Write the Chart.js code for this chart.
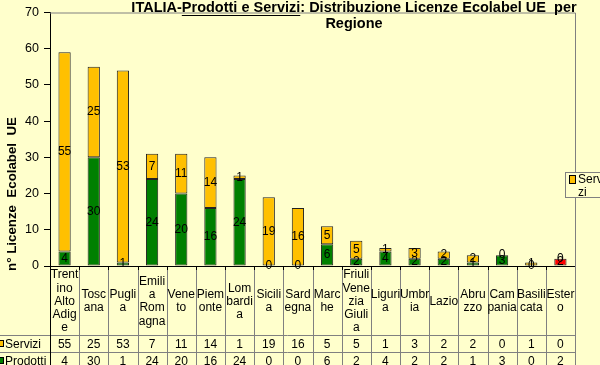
<!DOCTYPE html>
<html>
<head>
<meta charset="utf-8">
<script src="https://cdn.jsdelivr.net/npm/chart.js@4.4.1/dist/chart.umd.min.js"></script>
<style>
  html, body { margin: 0; padding: 0; background: #FFFFCC; }
  #wrap { width: 600px; height: 365px; position: relative; }
</style>
</head>
<body>
<div id="wrap"><canvas id="chart" width="600" height="365"></canvas></div>
<script>
// categorie (come vanno a capo nella tabella dati)
const regioni = [
  ["Trent", "ino", "Alto", "Adig", "e"],
  ["Tosc", "ana"],
  ["Pugli", "a"],
  ["Emili", "a", "Rom", "agna"],
  ["Vene", "to"],
  ["Piem", "onte"],
  ["Lom", "bardi", "a"],
  ["Sicili", "a"],
  ["Sard", "egna"],
  ["Marc", "he"],
  ["Friuli", "Vene", "zia", "Giuli", "a"],
  ["Liguri", "a"],
  ["Umbr", "ia"],
  ["Lazio"],
  ["Abru", "zzo"],
  ["Cam", "pania"],
  ["Basili", "cata"],
  ["Ester", "o"]
];

const servizi  = [55, 25, 53, 7, 11, 14, 1, 19, 16, 5, 5, 1, 3, 2, 2, 0, 1, 0];
const prodotti = [4, 30, 1, 24, 20, 16, 24, 0, 0, 6, 2, 4, 2, 2, 1, 3, 0, 2];

const yTicks = [0, 10, 20, 30, 40, 50, 60, 70];

const GIALLO = "#FFC000";
const VERDE = "#008000";
const ROSSO = "#FF0000";
const FONT = "Arial, 'Liberation Sans', sans-serif";

// colori barre prodotti: Estero in rosso
const coloriProdotti = regioni.map((r, i) => i === regioni.length - 1 ? ROSSO : VERDE);

// etichette valori dentro le barre
const etichettePlugin = {
  id: "etichette",
  afterDatasetsDraw(chart) {
    const ctx = chart.ctx;
    ctx.save();
    ctx.font = "12px " + FONT;
    ctx.fillStyle = "#000";
    ctx.textAlign = "center";
    ctx.textBaseline = "middle";
    chart.data.datasets.forEach((ds, di) => {
      const meta = chart.getDatasetMeta(di);
      meta.data.forEach((el, i) => {
        const y = (el.y + el.base) / 2;
        ctx.fillText(String(ds.data[i]), el.x, y);
      });
    });
    ctx.restore();
  }
};

// bordo area, titolo, tabella dati, legenda
const decoriPlugin = {
  id: "decori",
  afterDraw(chart) {
    const ctx = chart.ctx;
    const area = chart.chartArea;
    const n = regioni.length;
    const w = (area.right - area.left) / n;
    const fondo = 365;
    const riga1 = 335;
    const riga2 = 352;

    ctx.save();

    // bordo grigio sopra e a destra
    ctx.strokeStyle = "#808080";
    ctx.lineWidth = 1;
    ctx.beginPath();
    ctx.moveTo(area.left, area.top + 0.5);
    ctx.lineTo(area.right + 0.5, area.top + 0.5);
    ctx.lineTo(area.right + 0.5, area.bottom);
    ctx.stroke();

    // griglia tabella
    ctx.beginPath();
    for (let k = 1; k <= n; k++) {
      const x = Math.round(area.left + k * w) + 0.5;
      ctx.moveTo(x, area.bottom);
      ctx.lineTo(x, fondo);
    }
    ctx.moveTo(0, riga1 + 0.5);
    ctx.lineTo(area.right, riga1 + 0.5);
    ctx.moveTo(0, riga2 + 0.5);
    ctx.lineTo(area.right, riga2 + 0.5);
    ctx.stroke();

    ctx.strokeStyle = "#000";
    ctx.beginPath();
    ctx.moveTo(Math.round(area.left) + 0.5, area.bottom);
    ctx.lineTo(Math.round(area.left) + 0.5, fondo);
    for (let k = 1; k < n; k++) {
      const x = Math.round(area.left + k * w) + 0.5;
      ctx.moveTo(x, area.bottom);
      ctx.lineTo(x, area.bottom + 4);
    }
    ctx.stroke();

    // nomi regioni
    ctx.font = "12px " + FONT;
    ctx.fillStyle = "#000";
    ctx.textAlign = "center";
    ctx.textBaseline = "middle";
    const lh = 13.3;
    const centro = (area.bottom + riga1) / 2 + 1;
    regioni.forEach((righe, i) => {
      const x = area.left + (i + 0.5) * w;
      const y0 = centro - (righe.length - 1) * lh / 2;
      righe.forEach((t, j) => ctx.fillText(t, x, y0 + j * lh));
      ctx.fillText(String(servizi[i]), x, riga1 + 9.5);
      ctx.fillText(String(prodotti[i]), x, riga2 + 9.5);
    });

    // intestazioni righe
    ctx.textAlign = "left";
    ctx.fillText("Servizi", 5, riga1 + 9.5);
    ctx.fillText("Prodotti", 5, riga2 + 9.5);
    ctx.fillStyle = GIALLO;
    ctx.fillRect(-2, riga1 + 5, 6, 7);
    ctx.strokeStyle = "#000";
    ctx.strokeRect(-1.5, riga1 + 5.5, 5, 6);
    ctx.fillStyle = VERDE;
    ctx.fillRect(-2, riga2 + 5, 6, 7);
    ctx.strokeRect(-1.5, riga2 + 5.5, 5, 6);

    // legenda
    ctx.fillStyle = "#FFFFCC";
    ctx.fillRect(565, 172, 40, 25);
    ctx.strokeStyle = "#808080";
    ctx.strokeRect(565.5, 172.5, 40, 25);
    ctx.fillStyle = GIALLO;
    ctx.fillRect(570, 176, 5, 7);
    ctx.strokeStyle = "#000";
    ctx.strokeRect(569.5, 175.5, 6, 8);
    ctx.fillStyle = "#000";
    ctx.font = "12px " + FONT;
    ctx.fillText("Servi", 578, 180);
    ctx.fillText("zi", 578, 193);

    // titolo
    ctx.font = "bold 14.5px " + FONT;
    const p1 = "ITALIA-";
    const p2 = "Prodotti e Servizi";
    const p3 = ": Distribuzione Licenze Ecolabel UE  per";
    const tot = ctx.measureText(p1 + p2 + p3).width;
    let x = 354 - tot / 2;
    ctx.textAlign = "left";
    ctx.fillText(p1, x, 8);
    x += ctx.measureText(p1).width;
    ctx.fillText(p2, x, 8);
    const w2 = ctx.measureText(p2).width;
    ctx.fillRect(x, 15, w2, 1);
    ctx.fillText(p3, x + w2, 8);
    ctx.textAlign = "center";
    ctx.fillText("Regione", 354, 24);

    // titolo asse y
    ctx.translate(12, 194);
    ctx.rotate(-Math.PI / 2);
    ctx.font = "bold 13.3px " + FONT;
    ctx.fillText("n° Licenze  Ecolabel  UE", 0, 0);

    ctx.restore();
  }
};

const bgPlugin = {
  id: "sfondo",
  beforeDraw(chart) {
    const ctx = chart.ctx;
    ctx.save();
    ctx.fillStyle = "#FFFFCC";
    ctx.fillRect(0, 0, chart.width, chart.height);
    ctx.restore();
  }
};

new Chart(document.getElementById("chart").getContext("2d"), {
  type: "bar",
  data: {
    labels: regioni,
    datasets: [
      {
        label: "Prodotti",
        data: prodotti,
        backgroundColor: coloriProdotti,
        borderColor: "#222",
        borderWidth: 1,
        borderSkipped: false
      },
      {
        label: "Servizi",
        data: servizi,
        backgroundColor: GIALLO,
        borderColor: "#222",
        borderWidth: 1,
        borderSkipped: false
      }
    ]
  },
  options: {
    responsive: false,
    animation: false,
    layout: { padding: { top: 5, right: 25, left: 0, bottom: 0 } },
    datasets: { bar: { categoryPercentage: 1, barPercentage: 0.42 } },
    plugins: {
      legend: { display: false },
      tooltip: { enabled: false }
    },
    scales: {
      x: {
        stacked: true,
        offset: true,
        grid: { display: false },
        ticks: { display: false },
        border: { display: true, color: "#000" },
        afterFit: s => { s.height = 99; }
      },
      y: {
        stacked: true,
        min: yTicks[0],
        max: yTicks[yTicks.length - 1],
        afterBuildTicks: s => { s.ticks = yTicks.map(v => ({ value: v })); },
        ticks: { color: "#000", font: { size: 12.5, family: FONT }, padding: 5 },
        grid: { drawOnChartArea: false, drawTicks: true, tickLength: 6, color: "#000" },
        border: { display: true, color: "#000" },
        afterFit: s => { s.width = 50; }
      }
    }
  },
  plugins: [bgPlugin, etichettePlugin, decoriPlugin]
});
</script>
</body>
</html>
